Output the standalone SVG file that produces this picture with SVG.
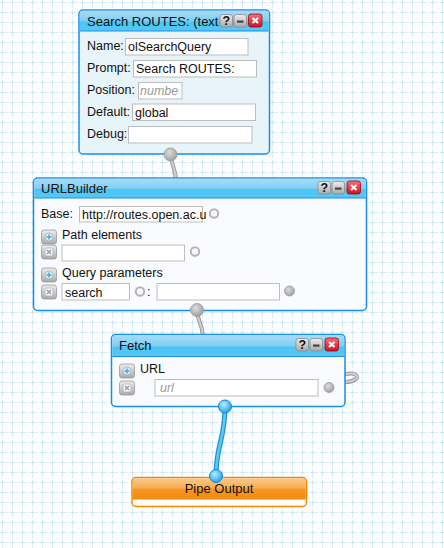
<svg xmlns="http://www.w3.org/2000/svg" width="444" height="548" viewBox="0 0 444 548">
<defs>
<pattern id="grid" x="2" y="2" width="10" height="10" patternUnits="userSpaceOnUse">
<path d="M0.5,0 V10 M0,0.5 H10" stroke="#e0eff6" stroke-width="1" stroke-dasharray="3 2" stroke-dashoffset="1.5" fill="none"/>
<path d="M0.5,-2 V3 M-2,0.5 H3 M10.5,-2 V3 M8,0.5 H13 M0.5,8 V13 M-2,10.5 H3 M10.5,8 V13 M8,10.5 H13" stroke="#cfe6f1" stroke-width="1" fill="none"/>
</pattern>
<linearGradient id="hdr" x1="0" y1="0" x2="0" y2="1">
<stop offset="0" stop-color="#a6dcf8"/>
<stop offset="0.5" stop-color="#80cef5"/>
<stop offset="0.56" stop-color="#4cc4f4"/>
<stop offset="1" stop-color="#55c9f6"/>
</linearGradient>
<linearGradient id="orange" x1="0" y1="0" x2="0" y2="1">
<stop offset="0" stop-color="#f9c88a"/>
<stop offset="0.45" stop-color="#f7b055"/>
<stop offset="0.55" stop-color="#f79422"/>
<stop offset="1" stop-color="#f58a10"/>
</linearGradient>
<linearGradient id="gbtn" x1="0" y1="0" x2="0" y2="1">
<stop offset="0" stop-color="#eeeeee"/>
<stop offset="1" stop-color="#a9a9a9"/>
</linearGradient>
<linearGradient id="rbtn" x1="0" y1="0" x2="0" y2="1">
<stop offset="0" stop-color="#f7707a"/>
<stop offset="1" stop-color="#d0101e"/>
</linearGradient>
<radialGradient id="gterm" cx="0.4" cy="0.35" r="0.7">
<stop offset="0" stop-color="#dddddd"/>
<stop offset="1" stop-color="#9c9c9c"/>
</radialGradient>
<radialGradient id="bterm" cx="0.4" cy="0.35" r="0.7">
<stop offset="0" stop-color="#b8ecff"/>
<stop offset="1" stop-color="#1c9be6"/>
</radialGradient>
<g id="btnq"><rect x="0" y="0" width="12.5" height="12.5" rx="2.5" fill="url(#gbtn)" stroke="#8a8a8a" stroke-width="0.8"/><text x="6.25" y="10" font-family="Liberation Sans, sans-serif" font-size="10" font-weight="bold" fill="#555" text-anchor="middle">?</text></g>
<g id="btnm"><rect x="0" y="0" width="12.5" height="12.5" rx="2.5" fill="url(#gbtn)" stroke="#8a8a8a" stroke-width="0.8"/><rect x="3" y="6" width="6.5" height="2.2" fill="#444"/></g>
<g id="btnx"><rect x="0" y="0" width="13.5" height="13" rx="2.5" fill="url(#rbtn)" stroke="#a00010" stroke-width="0.8"/><path d="M4,4 L9.5,9 M9.5,4 L4,9" stroke="#fff" stroke-width="2.2"/></g>
<g id="addb"><rect x="0" y="0" width="15" height="14" rx="2.5" fill="url(#gbtn)" stroke="#999" stroke-width="0.8"/><circle cx="7.5" cy="7" r="4" fill="#d8eef8" stroke="#8ab" stroke-width="0.6"/><path d="M7.5,4.5 V9.5 M5,7 H10" stroke="#5aa0c8" stroke-width="1.4"/></g>
<g id="delb"><rect x="0" y="0" width="15" height="14" rx="2.5" fill="url(#gbtn)" stroke="#999" stroke-width="0.8"/><rect x="3.5" y="3" width="8" height="8" rx="2" fill="#f4f4f4" stroke="#aaa" stroke-width="0.6"/><path d="M5.5,5 L9.5,9 M9.5,5 L5.5,9" stroke="#999" stroke-width="1.3"/></g>
</defs>
<style>
text{font-family:"Liberation Sans",Arial,sans-serif;font-size:12.5px;fill:#111}
.title{font-size:13px}
.frame{stroke:#1a8fe8;stroke-width:1.5}
.hdr{fill:url(#hdr)}
.sep{stroke:#1a8fe8;stroke-width:1}
.inp{fill:#ffffff;stroke:#bdbdbd;stroke-width:1}
.ph{fill:#9a9a9a;font-style:italic}
.hollow{fill:#f6f6f6;stroke:#b5b5b5;stroke-width:2}
.gterm{fill:url(#gterm);stroke:#999;stroke-width:0.8}
.bterm{fill:url(#bterm);stroke:#1786d2;stroke-width:1}
.wireo{fill:none;stroke:#9a9a9a;stroke-width:4;stroke-linecap:round}
.wirei{fill:none;stroke:#d0d0d0;stroke-width:2;stroke-linecap:round}
.bwo{fill:none;stroke:#1c8fd8;stroke-width:5;stroke-linecap:round}
.bwi{fill:none;stroke:#5cc8f6;stroke-width:2.6;stroke-linecap:round}
</style>
<rect x="0" y="0" width="444" height="548" fill="#fbfdff"/>
<rect x="0" y="0" width="444" height="548" fill="url(#grid)"/>

<g id="connectors">
<path class="wireo" d="M171,155 C171,166 176,168 176,181"/>
<path class="wirei" d="M171,155 C171,166 176,168 176,181"/>
<path class="wireo" d="M197,310 C197,321 202,322 203,336"/>
<path class="wirei" d="M197,310 C197,321 202,322 203,336"/>
<path class="wireo" d="M346,374 C355,372 359,376 356,379 C353,381 349,382 346,382"/>
<path class="wirei" d="M346,374 C355,372 359,376 356,379 C353,381 349,382 346,382"/>
<path class="bwo" d="M225,407 C225,440 216,444 216,476"/>
<path class="bwi" d="M225,407 C225,440 216,444 216,476"/>
</g>

<g id="node-search">
<rect class="frame" x="79" y="10" width="190.5" height="144" rx="4" fill="#e7f4f9"/>
<path class="hdr" d="M83,10.75 H265.5 A3.25,3.25 0 0 1 268.75,14 V31 H79.75 V14 A3.25,3.25 0 0 1 83,10.75 Z"/>
<line class="sep" x1="79.75" y1="31" x2="268.75" y2="31"/>
<text class="title" x="87" y="26">Search ROUTES: (text</text>
<use href="#btnq" x="220" y="14.5"/>
<use href="#btnm" x="234" y="14.5"/>
<use href="#btnx" x="248.5" y="14"/>
<text x="87" y="50">Name:</text>
<rect class="inp" x="125.5" y="38.5" width="122.5" height="16.5"/>
<text x="128" y="51">olSearchQuery</text>
<text x="87" y="72">Prompt:</text>
<rect class="inp" x="133.5" y="60.5" width="123" height="16.5"/>
<text x="136" y="73">Search ROUTES:</text>
<text x="87" y="94">Position:</text>
<rect class="inp" x="138.5" y="82.5" width="43.5" height="16.5"/>
<text class="ph" x="140" y="95">numbe</text>
<text x="87" y="116">Default:</text>
<rect class="inp" x="132.5" y="104" width="123" height="16.5"/>
<text x="135" y="117">global</text>
<text x="87" y="138">Debug:</text>
<rect class="inp" x="128.5" y="126.5" width="123.5" height="16.5"/>
<circle class="gterm" cx="170.5" cy="154.5" r="6.5"/>
</g>

<g id="node-urlbuilder">
<rect class="frame" x="33.5" y="178" width="333" height="132.5" rx="4" fill="#f9fbfe"/>
<path class="hdr" d="M37.5,178.75 H362.5 A3.25,3.25 0 0 1 365.75,182 V198 H34.25 V182 A3.25,3.25 0 0 1 37.5,178.75 Z"/>
<line class="sep" x1="34.25" y1="198" x2="365.75" y2="198"/>
<text class="title" x="41" y="193">URLBuilder</text>
<use href="#btnq" x="318" y="181.5"/>
<use href="#btnm" x="332" y="181.5"/>
<use href="#btnx" x="347" y="181"/>
<text x="41" y="218">Base:</text>
<rect class="inp" x="79.5" y="206.5" width="123" height="15.5"/>
<text x="82" y="219" font-size="12">http://routes.open.ac.u</text>
<circle class="hollow" cx="214" cy="213.5" r="4.2"/>
<use href="#addb" x="41.5" y="230"/>
<text x="62" y="239">Path elements</text>
<use href="#delb" x="41.5" y="245"/>
<rect class="inp" x="62" y="245" width="122.5" height="16"/>
<circle class="hollow" cx="195" cy="251.5" r="4.2"/>
<use href="#addb" x="41.5" y="268"/>
<text x="62" y="277">Query parameters</text>
<use href="#delb" x="41.5" y="285"/>
<rect class="inp" x="62" y="283.5" width="67.5" height="16.5"/>
<text x="65" y="297">search</text>
<circle class="hollow" cx="140" cy="291.5" r="4.2"/>
<text x="147" y="296">:</text>
<rect class="inp" x="157" y="283.5" width="122.5" height="16.5"/>
<circle class="gterm" cx="289.5" cy="291" r="5"/>
<circle class="gterm" cx="197" cy="310" r="6.5"/>
</g>

<g id="node-fetch">
<rect class="frame" x="111.5" y="334.5" width="233.5" height="72" rx="4" fill="#f9fbfe"/>
<path class="hdr" d="M115.5,335.25 H341 A3.25,3.25 0 0 1 344.25,338.5 V356.5 H112.25 V338.5 A3.25,3.25 0 0 1 115.5,335.25 Z"/>
<line class="sep" x1="112.25" y1="356.5" x2="344.25" y2="356.5"/>
<text class="title" x="119" y="350">Fetch</text>
<use href="#btnq" x="296" y="338.5"/>
<use href="#btnm" x="310" y="338.5"/>
<use href="#btnx" x="325" y="338"/>
<use href="#addb" x="119.5" y="364"/>
<text x="140" y="373">URL</text>
<use href="#delb" x="119.5" y="381"/>
<rect class="inp" x="155" y="379.5" width="163" height="16.5"/>
<text class="ph" x="160" y="392">url</text>
<circle class="gterm" cx="329" cy="387.5" r="5"/>
<circle class="bterm" cx="225" cy="406.5" r="6.5"/>
</g>

<g id="node-output">
<rect x="132" y="477.5" width="174.5" height="29" rx="4" fill="#ffffff" stroke="#f08a00" stroke-width="1.5"/>
<path d="M136,478.25 H302.5 A3.25,3.25 0 0 1 305.75,481.5 V499 H132.75 V481.5 A3.25,3.25 0 0 1 136,478.25 Z" fill="url(#orange)"/>
<line x1="132.75" y1="499" x2="305.75" y2="499" stroke="#f08a00" stroke-width="1"/>
<text class="title" x="219" y="493" text-anchor="middle">Pipe Output</text>
<circle class="bterm" cx="216" cy="476" r="6.5"/>
</g>
</svg>
